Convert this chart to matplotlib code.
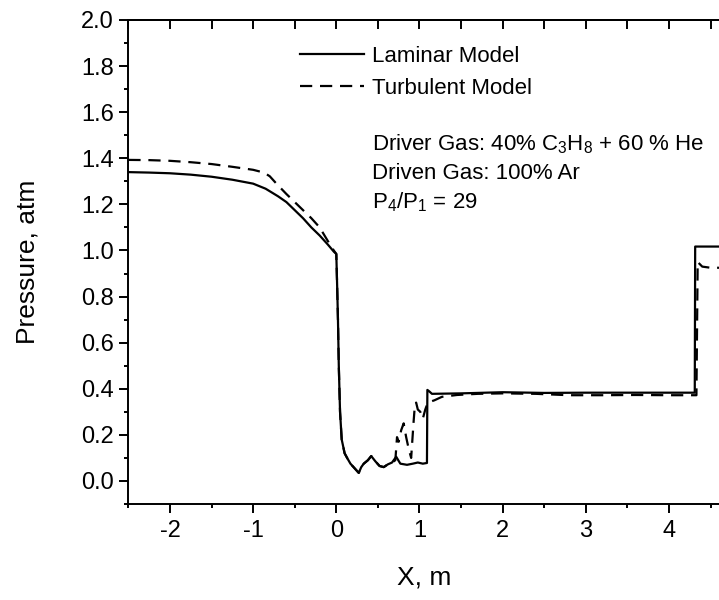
import matplotlib
matplotlib.use("Agg")
import matplotlib.pyplot as plt
from matplotlib.ticker import FixedLocator, MultipleLocator, FormatStrFormatter

plt.rcParams['font.family'] = ['Liberation Sans', 'DejaVu Sans']
plt.rcParams['mathtext.fontset'] = 'custom'
plt.rcParams['mathtext.rm'] = 'Liberation Sans'
plt.rcParams['mathtext.it'] = 'Liberation Sans:italic'
plt.rcParams['axes.unicode_minus'] = False

# Laminar model pressure profile
x_laminar = [-2.5, -2.25, -2.0, -1.75, -1.5, -1.25, -1.0, -0.85, -0.7, -0.6, -0.5,
             -0.4, -0.3, -0.2, -0.1, -0.03, 0.0,
             0.01, 0.02, 0.03, 0.045, 0.065, 0.10, 0.13, 0.17, 0.22, 0.27,
             0.30, 0.33, 0.38, 0.42, 0.47, 0.52, 0.57, 0.62, 0.67, 0.72,
             0.77, 0.85, 0.92, 0.98, 1.04, 1.09, 1.095, 1.12, 1.15, 1.5, 2.0,
             2.5, 3.0, 3.5, 4.0, 4.31, 4.315, 4.7]
p_laminar = [1.340, 1.338, 1.335, 1.329, 1.320, 1.307, 1.290, 1.268, 1.235, 1.210, 1.175,
             1.140, 1.100, 1.065, 1.025, 0.995, 0.985,
             0.85, 0.70, 0.50, 0.30, 0.18, 0.12, 0.10, 0.075, 0.055, 0.035,
             0.060, 0.075, 0.090, 0.108, 0.085, 0.065, 0.060, 0.072, 0.080, 0.105,
             0.075, 0.070, 0.075, 0.080, 0.075, 0.078, 0.395, 0.388, 0.378, 0.380, 0.385,
             0.382, 0.383, 0.383, 0.383, 0.383, 1.017, 1.017]

# Turbulent model pressure profile
x_turbulent = [-2.5, -2.25, -2.0, -1.75, -1.5, -1.25, -1.0, -0.87, -0.8, -0.72, -0.6,
               -0.5, -0.4, -0.3, -0.2, -0.1, -0.03, 0.0,
               0.01, 0.02, 0.03, 0.045, 0.065, 0.10, 0.13, 0.17, 0.22, 0.27,
               0.30, 0.33, 0.38, 0.42, 0.47, 0.52, 0.57, 0.62, 0.67, 0.71,
               0.73, 0.75, 0.78, 0.81, 0.84, 0.87, 0.90, 0.915, 0.93, 0.945, 0.96,
               0.98, 1.01, 1.04, 1.07, 1.10, 1.18, 1.27, 1.45, 1.7, 2.0, 2.4, 2.8,
               3.2, 3.6, 4.0, 4.33, 4.345, 4.40, 4.5, 4.7]
p_turbulent = [1.393, 1.392, 1.389, 1.383, 1.375, 1.363, 1.350, 1.338, 1.322, 1.290, 1.245,
               1.210, 1.175, 1.140, 1.100, 1.040, 1.000, 0.985,
               0.85, 0.70, 0.50, 0.30, 0.18, 0.12, 0.10, 0.075, 0.055, 0.035,
               0.060, 0.075, 0.090, 0.108, 0.085, 0.065, 0.060, 0.072, 0.080, 0.09,
               0.19, 0.17, 0.22, 0.25, 0.19, 0.14, 0.10, 0.18, 0.26, 0.33, 0.34,
               0.31, 0.30, 0.27, 0.31, 0.34, 0.35, 0.365, 0.373, 0.378, 0.380, 0.378, 0.372,
               0.372, 0.373, 0.372, 0.372, 0.950, 0.930, 0.925, 0.925]

series_labels = ["Laminar Model", "Turbulent Model"]
x_major_ticks = [-2, -1, 0, 1, 2, 3, 4]
x_minor_ticks = [-2.5, -1.5, -0.5, 0.5, 1.5, 2.5, 3.5, 4.5]
annotation_lines = ["Driver Gas: 40% C$_3$H$_8$ + 60 % He",
                    "Driven Gas: 100% Ar",
                    "P$_4$/P$_1$ = 29"]

W, H = 719, 600
fig = plt.figure(figsize=(W / 100, H / 100), dpi=100)
x0_px, x_unit = 336.3, 83.17
xmin, xmax = -2.5, 4.62
left_px = x0_px + xmin * x_unit
right_px = x0_px + xmax * x_unit
top_px, bottom_px = 20, 504
ax = fig.add_axes([left_px / W, 1 - bottom_px / H,
                   (right_px - left_px) / W, (bottom_px - top_px) / H])

lw = 1.6
ax.plot(x_laminar, p_laminar, color='black', lw=lw, label=series_labels[0])
ax.plot(x_turbulent, p_turbulent, color='black', lw=lw, ls=(0, (5.5, 3.5)),
        label=series_labels[1])

ax.set_xlim(xmin, xmax)
ax.set_ylim(-0.1, 2.0)
ax.xaxis.set_major_locator(FixedLocator(x_major_ticks))
ax.xaxis.set_minor_locator(FixedLocator(x_minor_ticks))
ax.yaxis.set_major_locator(MultipleLocator(0.2))
ax.yaxis.set_minor_locator(MultipleLocator(0.1))
ax.yaxis.set_major_formatter(FormatStrFormatter('%.1f'))
ax.xaxis.set_major_formatter(FormatStrFormatter('%d'))

for s in ax.spines.values():
    s.set_linewidth(1.4)

ax.tick_params(axis='both', which='major', length=6.5, width=1.4, labelsize=17, direction='out')
ax.tick_params(axis='both', which='minor', length=3.2, width=1.4, direction='out')
ax.tick_params(axis='x', which='major', pad=5)
ax.tick_params(axis='y', which='major', pad=4)

# inward ticks along the top edge
top = ax.secondary_xaxis('top')
top.set_xticks(x_major_ticks + x_minor_ticks)
top.tick_params(direction='in', length=6.5, width=1.4, labeltop=False)
top.spines['top'].set_linewidth(1.4)

ax_w = right_px - left_px
ax_h = bottom_px - top_px
ax.set_xlabel("X, m", fontsize=19)
ax.xaxis.set_label_coords(0.5, -(566 - bottom_px) / ax_h)
ax.set_ylabel("Pressure, atm", fontsize=19)
ax.yaxis.set_label_coords(-(left_px - 40) / ax_w, 0.5)

leg = ax.legend(loc='upper left', bbox_to_anchor=(300 / W, 1 - 46 / H),
                bbox_transform=fig.transFigure, frameon=False, fontsize=16,
                handlelength=2.9, handletextpad=0.35, labelspacing=0.5,
                borderpad=0, borderaxespad=0)

for i, line in enumerate(annotation_lines):
    fig.text(372 / W, 1 - (150 + 29 * i) / H, line, fontsize=16, ha='left', va='baseline')

fig.savefig("out.png", dpi=100)
